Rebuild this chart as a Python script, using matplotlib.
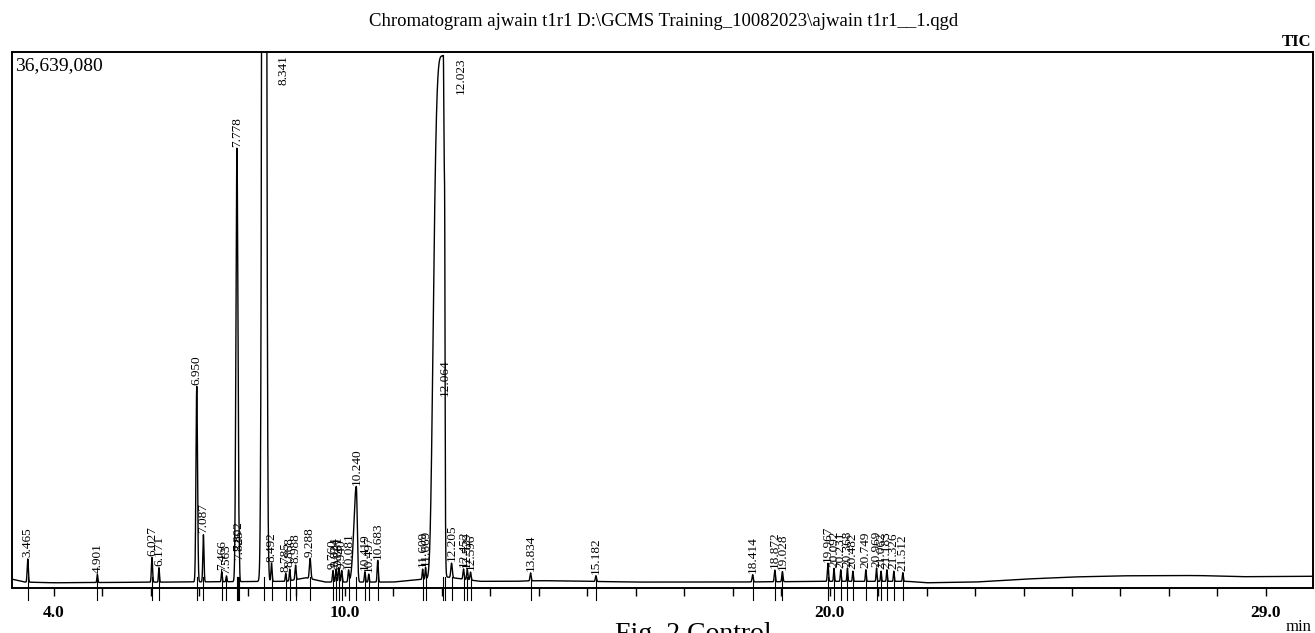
import numpy as np
import matplotlib
matplotlib.use('Agg')
import matplotlib.pyplot as plt
import matplotlib.transforms as mtransforms

plt.rcParams['font.family'] = ['Liberation Serif', 'DejaVu Serif']

# peak table: retention time (min), height (counts), width (min)
rt = [3.465, 4.901, 6.027, 6.171, 6.950, 7.087, 7.466, 7.563, 7.778, 7.802, 7.825,
      8.341, 8.492, 8.785, 8.868, 8.988, 9.288, 9.760, 9.824, 9.881, 9.940, 10.081,
      10.240, 10.419, 10.497, 10.683, 11.609, 11.669, 12.023, 12.064, 12.205, 12.452,
      12.529, 12.596, 13.834, 15.182, 18.414, 18.872, 19.028, 19.967, 20.092, 20.231,
      20.368, 20.482, 20.749, 20.969, 21.062, 21.183, 21.326, 21.512]
height = [1.6e6, 0.55e6, 1.7e6, 1.0e6, 13.5e6, 3.25e6, 0.7e6, 0.4e6, 29.9e6, 2.0e6, 1.4e6,
          200e6, 1.25e6, 0.55e6, 0.8e6, 1.0e6, 1.4e6, 0.8e6, 0.9e6, 1.0e6, 0.8e6, 0.8e6,
          6.6e6, 0.7e6, 0.55e6, 1.5e6, 0.7e6, 0.8e6, 36.0e6, 12.4e6, 1.0e6, 0.7e6,
          0.7e6, 0.55e6, 0.55e6, 0.4e6, 0.5e6, 0.8e6, 0.7e6, 1.25e6, 0.9e6, 0.8e6,
          0.9e6, 0.7e6, 0.8e6, 0.9e6, 0.7e6, 0.8e6, 0.7e6, 0.6e6]
width = [0.012, 0.01, 0.012, 0.01, 0.016, 0.012, 0.01, 0.01, 0.02, 0.008, 0.008,
         0.03, 0.012, 0.01, 0.01, 0.012, 0.015, 0.012, 0.012, 0.012, 0.012, 0.012,
         0.03, 0.012, 0.01, 0.012, 0.01, 0.01, 0.224, 0.008, 0.015, 0.012,
         0.012, 0.012, 0.012, 0.012, 0.012, 0.012, 0.012, 0.012, 0.01, 0.01,
         0.01, 0.01, 0.01, 0.01, 0.01, 0.01, 0.01, 0.01]

# baseline drift knots (min, counts)
base_t = [3.14, 3.4, 4.0, 8.8, 9.2, 9.6, 11.0, 12.1, 12.8, 13.5, 14.0, 16.0, 18.0,
          20.0, 21.6, 22.0, 23.0, 24.0, 25.0, 26.0, 27.0, 27.6, 28.5, 30.0]
base_y = [0.25e6, 0.05e6, 0.0, 0.1e6, 0.35e6, 0.05e6, 0.05e6, 0.4e6, 0.1e6, 0.1e6,
          0.15e6, 0.05e6, 0.05e6, 0.1e6, 0.1e6, 0.0, 0.05e6, 0.25e6, 0.4e6, 0.48e6,
          0.5e6, 0.5e6, 0.42e6, 0.45e6]

y_top = 36639080
tick_major = [4.0, 10.0, 20.0, 29.0]

t = np.arange(3.14, 29.98, 0.001)
base = np.interp(t, base_t, base_y)
sig = base.copy()
for r, h, w in zip(rt, height, width):
    if r == 12.023:
        # overloaded, fronting peak
        d = (r + 0.012) - t
        left = np.exp(-np.clip(d / w, 0, None) ** 4.6)
        right = np.exp(-0.5 * (np.clip(-d, 0, None) / 0.02) ** 2)
        sig += h * np.where(d >= 0, left, right)
    elif r == 10.240:
        d = t - r
        s = np.where(d < 0, 0.05, 0.02)
        sig += h * np.exp(-0.5 * (d / s) ** 2)
    else:
        sig += h * np.exp(-0.5 * ((t - r) / w) ** 2)

fig = plt.figure(figsize=(13.15, 6.33), dpi=100)
ax = fig.add_axes([12 / 1315, 1 - 588 / 633, 1301 / 1315, 536 / 633])
ax.plot(t, sig, color='black', lw=1.0)
ax.set_xlim(3.14, 29.97)
ax.set_ylim(-0.36e6, y_top)

for s in ax.spines.values():
    s.set_linewidth(1.4)

ax.set_yticks([])
ax.set_xticks(tick_major)
ax.set_xticklabels(['%.1f' % v for v in tick_major], fontsize=12.5, fontweight='bold')
ax.set_xticks(np.arange(4, 30, 1.0), minor=True)
ax.tick_params(axis='x', which='both', direction='out', length=6, width=1.0, pad=6)

# peak markers crossing the bottom axis
trans = mtransforms.blended_transform_factory(ax.transData, ax.transAxes)
for r in rt:
    ax.plot([r, r], [-0.022, 0.02], color='black', lw=0.8, transform=trans, clip_on=False)

# retention time labels, set just above each peak's own apex
for r, h in zip(rt, height):
    if r in (8.341, 12.023):
        continue
    top = np.interp(r, base_t, base_y) + h
    ax.text(r, top + 0.12e6, '%.3f' % r, rotation=90, ha='center', va='bottom',
            fontsize=9.5)
ax.text(8.73, 0.995, '8.341', rotation=90, ha='center', va='top', fontsize=9.5,
        transform=trans)
ax.text(12.40, 0.99, '12.023', rotation=90, ha='center', va='top', fontsize=9.5,
        transform=trans)

ax.text(0.002, 0.99, '36,639,080', transform=ax.transAxes, ha='left', va='top', fontsize=14)
fig.text(664 / 1315, 1 - 22 / 633, r'Chromatogram ajwain t1r1 D:\GCMS Training_10082023\ajwain t1r1__1.qgd',
         ha='center', va='center', fontsize=13.5)
fig.text(1311 / 1315, 1 - 42 / 633, 'TIC', ha='right', va='center', fontsize=12, fontweight='bold')
fig.text(1311 / 1315, 1 - 627 / 633, 'min', ha='right', va='center', fontsize=12)
fig.text(615 / 1315, 1 - 622 / 633, 'Fig. 2 Control', ha='left', va='top', fontsize=20)

fig.savefig('out.png', dpi=100)
